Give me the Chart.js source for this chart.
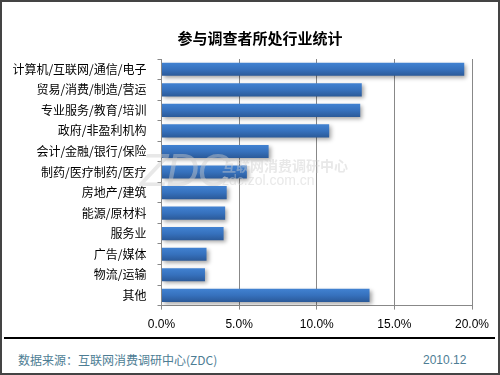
<!DOCTYPE html>
<html>
<head>
<meta charset="utf-8">
<script src="https://cdn.jsdelivr.net/npm/chart.js@4.4.0/dist/chart.umd.min.js"></script>
<style>
  body { margin: 0; background: #fff; }
  #wrap { position: relative; width: 500px; height: 375px; overflow: hidden; }
  #box { position: absolute; left: 0; top: 0; width: 500px; height: 347px; }
  #frame { position: absolute; left: 0; top: 0; width: 500px; height: 375px; box-sizing: border-box;
           border: 2px solid #444; pointer-events: none; }
  #title { position: absolute; left: 160px; width: 200px; top: 29px; text-align: center;
           font-family: "Noto Sans CJK SC", sans-serif; font-size: 15px; font-weight: bold; line-height: 18px; color: #000; }
  #rule { position: absolute; left: 4px; top: 337px; width: 491px; border-top: 2px solid #000; }
  .foot { position: absolute; top: 352px; font-family: "Noto Sans CJK SC", "Liberation Sans", sans-serif;
          font-size: 12px; color: #4d7d94; line-height: 16px; }
  .mark { position: absolute; font-family: "Liberation Sans", sans-serif; color: rgba(205,205,205,0.45);
          pointer-events: none; white-space: nowrap; }
</style>
</head>
<body>
<div id="wrap">
  <div id="box"><canvas id="industryCanvas" width="500" height="347"></canvas></div>
  <div id="title">参与调查者所处行业统计</div>
  <div class="mark" style="left:140px;top:143px;font-size:46px;font-style:italic;letter-spacing:-2px;">ZDC</div>
  <div class="mark" style="left:222px;top:155px;font-size:14px;font-family:'Noto Sans CJK SC';font-weight:bold;">互联网消费调研中心</div>
  <div class="mark" style="left:222px;top:172px;font-size:14px;">zdc.zol.com.cn</div>
  <div id="rule"></div>
  <div class="foot" style="left:18px;">数据来源：互联网消费调研中心(ZDC)</div>
  <div class="foot" style="left:423px;font-family:'Liberation Sans', sans-serif;">2010.12</div>
  <div id="frame"></div>
</div>
<script>
// industry share of respondents, in percent
var categories = ['计算机/互联网/通信/电子', '贸易/消费/制造/营运', '专业服务/教育/培训', '政府/非盈利机构',
                  '会计/金融/银行/保险', '制药/医疗制药/医疗', '房地产/建筑', '能源/原材料',
                  '服务业', '广告/媒体', '物流/运输', '其他'];
var shares = [19.5, 12.9, 12.8, 10.8, 6.9, 5.5, 4.2, 4.1, 4.0, 2.9, 2.8, 13.4];
var axisMax = 20;
var axisStep = 5;

// soft drop shadow under the bars
var barShadow = {
    id: 'barShadow',
    beforeDatasetsDraw: function (chart) {
        var c = chart.ctx;
        c.save();
        c.shadowColor = 'rgba(0,0,0,0.35)';
        c.shadowBlur = 4;
        c.shadowOffsetX = 2;
        c.shadowOffsetY = 2;
    },
    afterDatasetsDraw: function (chart) {
        chart.ctx.restore();
    }
};

function barFill(context) {
    var chart = context.chart;
    if (!chart.chartArea || !chart.scales.y) return '#3670bb';
    var y = chart.scales.y.getPixelForValue(context.dataIndex);
    var g = chart.ctx.createLinearGradient(0, y - 7, 0, y + 7);
    g.addColorStop(0, '#4283d3');
    g.addColorStop(0.5, '#3671bd');
    g.addColorStop(1, '#2a5896');
    return g;
}

var ctx = document.getElementById('industryCanvas').getContext('2d');
var chart = new Chart(ctx, {
    type: 'bar',
    data: {
        labels: categories,
        datasets: [{
            label: '比例',
            data: shares,
            backgroundColor: barFill,
            borderWidth: 0,
            barPercentage: 0.64,
            categoryPercentage: 1
        }]
    },
    options: {
        indexAxis: 'y',
        responsive: false,
        animation: false,
        layout: { padding: { left: 0, right: 28, top: 59, bottom: 7 } },
        plugins: {
            legend: { display: false },
            tooltip: { enabled: false }
        },
        scales: {
            x: {
                min: 0,
                max: axisMax,
                ticks: {
                    stepSize: axisStep,
                    color: '#000',
                    padding: 8,
                    font: { family: 'Liberation Sans', size: 12 },
                    callback: function (v) { return v.toFixed(1) + '%'; }
                },
                grid: { color: '#888', tickLength: 4, lineWidth: 1 },
                border: { color: '#888' }
            },
            y: {
                afterFit: function (scale) { scale.width = 161.5; },
                ticks: {
                    color: '#000',
                    padding: 11,
                    font: { family: 'Noto Sans CJK SC', size: 12 }
                },
                grid: { drawOnChartArea: false, color: '#888', tickLength: 4 },
                border: { color: '#888' }
            }
        }
    },
    plugins: [barShadow]
});
</script>
</body>
</html>
